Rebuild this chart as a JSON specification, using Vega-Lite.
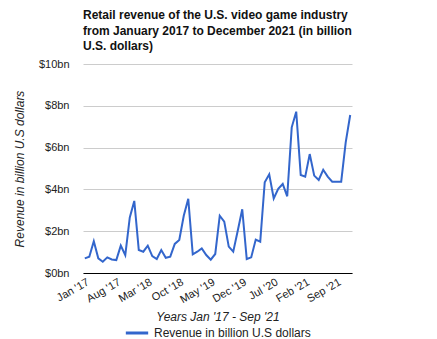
{
  "$schema": "https://vega.github.io/schema/vega-lite/v6.json",
  "width": 269,
  "height": 209,
  "padding": {"left": 13, "top": 9, "right": 5, "bottom": 0},
  "background": "white",
  "title": {
    "text": ["Retail revenue of the U.S. video game industry", "from January 2017 to December 2021 (in billion", "U.S. dollars)"],
    "anchor": "start",
    "frame": "group",
    "font": "Liberation Sans",
    "fontSize": 12,
    "fontWeight": "bold",
    "color": "#111111",
    "lineHeight": 15.5,
    "offset": 5
  },
  "data": {
    "values": [
      {"month": "Jan '17", "revenue": 0.70}, {"month": "Feb '17", "revenue": 0.78}, {"month": "Mar '17", "revenue": 1.52}, {"month": "Apr '17", "revenue": 0.70},
      {"month": "May '17", "revenue": 0.54}, {"month": "Jun '17", "revenue": 0.75}, {"month": "Jul '17", "revenue": 0.65}, {"month": "Aug '17", "revenue": 0.62},
      {"month": "Sep '17", "revenue": 1.31}, {"month": "Oct '17", "revenue": 0.85}, {"month": "Nov '17", "revenue": 2.66}, {"month": "Dec '17", "revenue": 3.45},
      {"month": "Jan '18", "revenue": 1.10}, {"month": "Feb '18", "revenue": 1.02}, {"month": "Mar '18", "revenue": 1.31}, {"month": "Apr '18", "revenue": 0.81},
      {"month": "May '18", "revenue": 0.67}, {"month": "Jun '18", "revenue": 1.10}, {"month": "Jul '18", "revenue": 0.73}, {"month": "Aug '18", "revenue": 0.78},
      {"month": "Sep '18", "revenue": 1.39}, {"month": "Oct '18", "revenue": 1.58}, {"month": "Nov '18", "revenue": 2.74}, {"month": "Dec '18", "revenue": 3.55},
      {"month": "Jan '19", "revenue": 0.89}, {"month": "Feb '19", "revenue": 1.02}, {"month": "Mar '19", "revenue": 1.18}, {"month": "Apr '19", "revenue": 0.86},
      {"month": "May '19", "revenue": 0.64}, {"month": "Jun '19", "revenue": 0.91}, {"month": "Jul '19", "revenue": 2.74}, {"month": "Aug '19", "revenue": 2.46},
      {"month": "Sep '19", "revenue": 1.26}, {"month": "Oct '19", "revenue": 1.02}, {"month": "Nov '19", "revenue": 2.02}, {"month": "Dec '19", "revenue": 3.05},
      {"month": "Jan '20", "revenue": 0.67}, {"month": "Feb '20", "revenue": 0.75}, {"month": "Mar '20", "revenue": 1.60}, {"month": "Apr '20", "revenue": 1.50},
      {"month": "May '20", "revenue": 4.34}, {"month": "Jun '20", "revenue": 4.72}, {"month": "Jul '20", "revenue": 3.57}, {"month": "Aug '20", "revenue": 4.03},
      {"month": "Sep '20", "revenue": 4.26}, {"month": "Oct '20", "revenue": 3.67}, {"month": "Nov '20", "revenue": 6.97}, {"month": "Dec '20", "revenue": 7.72},
      {"month": "Jan '21", "revenue": 4.69}, {"month": "Feb '21", "revenue": 4.61}, {"month": "Mar '21", "revenue": 5.69}, {"month": "Apr '21", "revenue": 4.66},
      {"month": "May '21", "revenue": 4.45}, {"month": "Jun '21", "revenue": 4.94}, {"month": "Jul '21", "revenue": 4.61}, {"month": "Aug '21", "revenue": 4.37},
      {"month": "Sep '21", "revenue": 4.37}, {"month": "Oct '21", "revenue": 4.37}, {"month": "Nov '21", "revenue": 6.25}, {"month": "Dec '21", "revenue": 7.56}
    ]
  },
  "mark": {"type": "line", "strokeWidth": 2, "interpolate": "linear"},
  "encoding": {
    "x": {
      "field": "month",
      "type": "ordinal",
      "sort": null,
      "scale": {"type": "point", "padding": 0.4},
      "axis": {
        "values": ["Jan '17", "Aug '17", "Mar '18", "Oct '18", "May '19", "Dec '19", "Jul '20", "Feb '21", "Sep '21"],
        "title": "Years Jan '17 - Sep '21",
        "titleFont": "Liberation Sans",
        "titleFontSize": 12,
        "titleFontStyle": "italic",
        "titleFontWeight": "normal",
        "titleColor": "#222222",
        "titlePadding": 7,
        "labelAngle": -30,
        "labelAlign": "right",
        "labelBaseline": "top",
        "labelFont": "Liberation Sans",
        "labelFontSize": 11,
        "labelColor": "#222222",
        "labelPadding": 3,
        "ticks": false,
        "domainColor": "#000000",
        "domainWidth": 1,
        "grid": false
      }
    },
    "y": {
      "field": "revenue",
      "type": "quantitative",
      "scale": {"domain": [0, 10], "nice": false},
      "axis": {
        "values": [0, 2, 4, 6, 8, 10],
        "labelExpr": "'$' + datum.value + 'bn'",
        "title": "Revenue in billion U.S dollars",
        "titleFont": "Liberation Sans",
        "titleFontSize": 12,
        "titleFontStyle": "italic",
        "titleFontWeight": "normal",
        "titleColor": "#222222",
        "titlePadding": 12,
        "labelFont": "Liberation Sans",
        "labelFontSize": 11,
        "labelColor": "#222222",
        "labelPadding": 14,
        "ticks": false,
        "domain": false,
        "gridColor": "#cccccc",
        "gridWidth": 1
      }
    },
    "color": {
      "datum": "Revenue in billion U.S dollars",
      "type": "nominal",
      "scale": {"range": ["#3366cc"]},
      "legend": {
        "title": null,
        "orient": "bottom",
        "symbolType": "stroke",
        "symbolStrokeWidth": 3,
        "symbolSize": 500,
        "labelFont": "Liberation Sans",
        "labelFontSize": 12,
        "labelColor": "#222222",
        "offset": -3,
        "padding": 0
      }
    }
  },
  "config": {
    "view": {"stroke": null},
    "legend": {"layout": {"bottom": {"anchor": "middle"}}}
  }
}
